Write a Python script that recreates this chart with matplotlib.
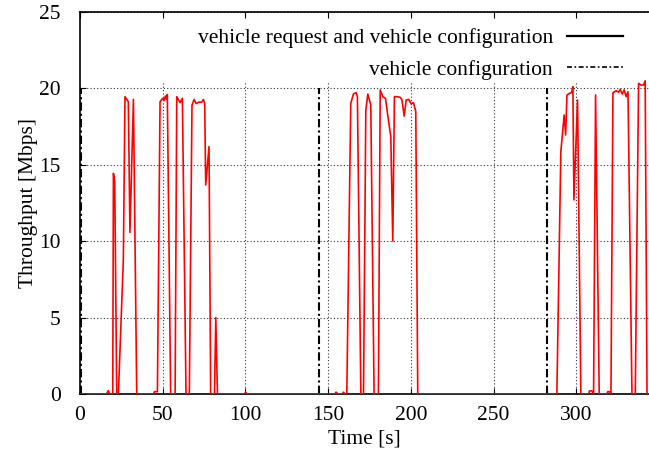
import matplotlib
matplotlib.use("Agg")
import matplotlib.pyplot as plt
from matplotlib.lines import Line2D

plt.rcParams['font.family'] = ['Liberation Serif', 'DejaVu Serif']

# throughput of "vehicle request and vehicle configuration"
time_s = [0, 16, 17.1, 18, 19.8, 20.2, 21.0, 22.2, 23.2, 26.2, 27.2, 29.2, 30.2, 32.3, 34.3,
          44.4, 45.0, 46.8, 48.4, 50.0, 50.8, 51.6, 52.2, 52.8, 54.8, 57.5, 58.5, 60.5, 61.9,
          64.1, 66.1, 67.7, 69.0, 70.2, 71.8, 73.6, 74.6, 75.4, 76.0, 78.0, 79.0, 81.3, 82.1,
          83.1, 99.5, 100.2, 101, 154, 154.8, 156, 158.5, 159.3, 160.2, 161.3, 163.7, 165.3,
          166.9, 167.7, 169.8, 171.4, 172.8, 174.0, 175.8, 177.8, 180.4, 181.5, 183.1, 184.7,
          185.9, 187.9, 189.1, 190.1, 191.5, 193.5, 194.6, 196.0, 197.2, 198.8, 200.2, 201.6,
          203.0, 204.2, 288.3, 290.7, 292.7, 293.6, 294.4, 296.0, 297.2, 298.0, 298.6, 300.8,
          302.8, 307.5, 308.0, 309.5, 310.5, 311.7, 313.9, 318.6, 319.0, 320.2, 321.0, 322.2,
          324.2, 325.6, 326.6, 327.8, 329.0, 330.2, 331.3, 333.7, 335.7, 337.7, 339.1, 340.7,
          341.7, 342.8, 344]
throughput = [0, 0, 0.22, 0, 0, 14.44, 13.9, 0, 0, 8.77, 19.46, 19.13, 10.58, 19.28, 0,
              0, 0.15, 0.15, 19.13, 19.35, 19.2, 19.5, 19.3, 19.6, 0, 0, 19.46, 19.07, 19.35,
              0, 0, 18.9, 19.28, 19.0, 19.1, 19.1, 19.28, 19.02, 13.68, 16.19, 0, 0, 5.0,
              0, 0, 0.12, 0, 0, 0.12, 0, 0, 0.12, 0, 0, 19.02, 19.63,
              19.72, 19.5, 0, 0, 18.59, 19.63, 18.91, 0, 0, 19.9, 19.46, 19.35,
              18.37, 16.84, 10.01, 19.46, 19.46, 19.42, 19.28, 18.19, 19.24, 19.28, 18.98, 19.07,
              18.48, 0, 0, 15.86, 18.26, 16.95, 19.57, 19.68, 19.72, 20.11, 12.7, 19.24,
              0, 0, 0.2, 0.2, 0, 19.57, 0, 0, 0.15, 0.15, 0, 19.72,
              19.85, 19.75, 19.94, 19.63, 19.9, 19.46, 19.78, 0, 0, 20.33, 20.22, 20.22,
              20.5, 0, 0]

# "vehicle configuration" events
config_times = [0.7, 144.2, 282.3]
config_level = 20

x_ticks = [0, 50, 100, 150, 200, 250, 300]
y_ticks = [0, 5, 10, 15, 20, 25]

fs = 15.5

fig = plt.figure(figsize=(6.49, 4.54), dpi=100)
ax = fig.add_axes([80 / 649, 1 - 394 / 454, 1 - 80 / 649, (394 - 12) / 454])

# grid: horizontal full width, vertical only up to just above 20 (hidden by the key)
ax.grid(axis='y', linestyle=(0, (1, 2)), color='#333333', linewidth=0.8)
ax.vlines(x_ticks[1:], 0, 20.45, linestyles=(0, (1, 2)), colors='#333333', linewidth=0.8, zorder=0.5)
ax.set_axisbelow(True)

ax.vlines(config_times, 0, config_level, colors='black', linewidth=1.5,
          linestyles=(0, (4, 1.5, 1, 1.5)), zorder=2)
ax.plot(time_s, throughput, color='#ff0000', linewidth=1.2, zorder=3)

ax.set_xlim(0, 344)
ax.set_ylim(0, 25)
ax.set_xticks(x_ticks)
ax.set_yticks(y_ticks)
ax.tick_params(direction='in', length=4, top=True, right=False, labelsize=fs)
ax.tick_params(axis='x', pad=9)
ax.tick_params(axis='y', pad=14)
ax.spines['right'].set_visible(False)
for s in ['left', 'bottom', 'top']:
    ax.spines[s].set_linewidth(1.2)

ax.set_xlabel('Time [s]', fontsize=fs, labelpad=3)
ax.set_ylabel('Throughput [Mbps]', fontsize=fs, labelpad=1)

handles = [Line2D([], [], color='black', linewidth=1.6),
           Line2D([], [], color='black', linewidth=1.2, linestyle=(0, (3, 1.5, 1, 1.5)))]
labels = ['vehicle request and vehicle configuration', 'vehicle configuration']
fig.legend(handles, labels, loc='upper right', bbox_to_anchor=(623 / 649, 1 - 28 / 454),
           frameon=False, markerfirst=False, fontsize=fs, handlelength=2.6,
           handletextpad=0.65, labelspacing=0.55, borderpad=0, borderaxespad=0)

fig.savefig('out.png', dpi=100)
